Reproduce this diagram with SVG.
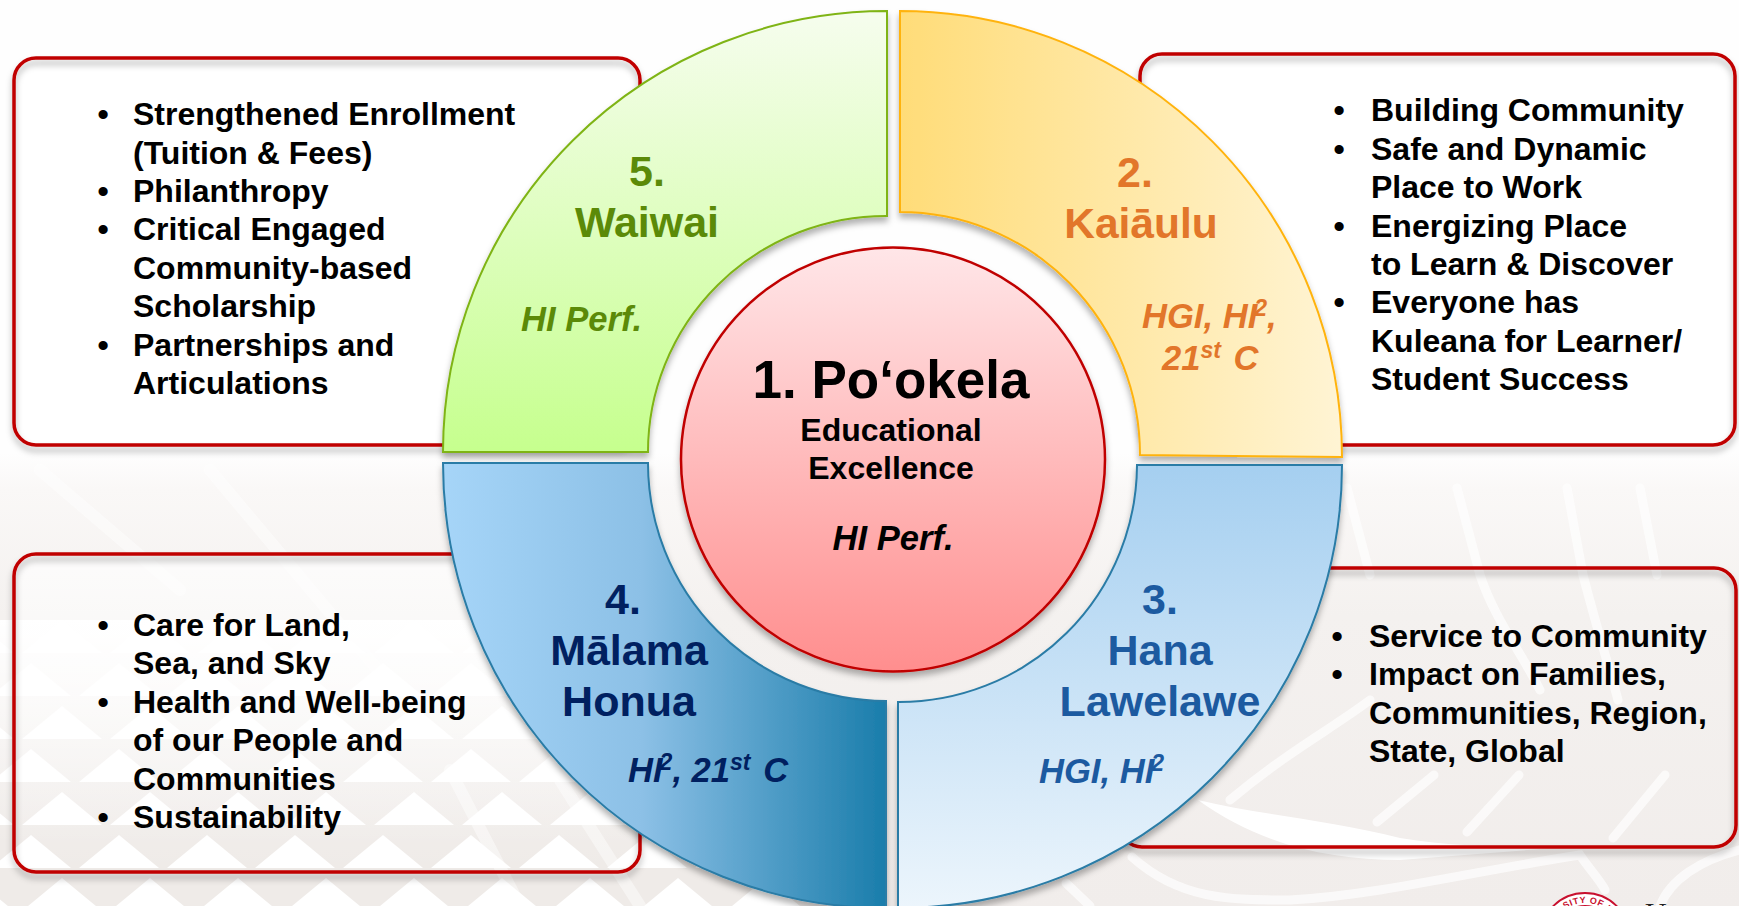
<svg xmlns="http://www.w3.org/2000/svg" width="1739" height="906" viewBox="0 0 1739 906">
<style>
text{font-family:"Liberation Sans",Arial,sans-serif;font-weight:bold}
.b{font-size:32px;fill:#000}
.d{font-size:32px;fill:#000;text-anchor:middle}
.t{font-size:43px;text-anchor:middle}
.i{font-size:34.6px;font-style:italic}
.box{fill:none;stroke:#c00000;stroke-width:3.5;filter:url(#sh)}
.q{stroke-width:2;filter:url(#sh)}
.ln{fill:none;stroke:#fff;stroke-linecap:round}
.u{font-size:23px}
</style>
<defs>
<filter id="sh" x="-5%" y="-5%" width="110%" height="112%"><feDropShadow dx="0" dy="5" stdDeviation="3" flood-color="#000" flood-opacity=".3"/></filter>
<clipPath id="leftBg"><path d="M0 620H660V800H800V906H0Z"/></clipPath>
<linearGradient id="bgG" x1="0" y1="0" x2="0" y2="1"><stop offset=".5" stop-color="#fefefe"/><stop offset=".54" stop-color="#faf8f7"/><stop offset=".68" stop-color="#f4f1ef"/><stop offset="1" stop-color="#f1edeb"/></linearGradient>
<linearGradient id="fade" x1="0" y1="0" x2="0" y2="1"><stop offset="0" stop-color="#fff" stop-opacity="1"/><stop offset="1" stop-color="#fff" stop-opacity="0"/></linearGradient>
<pattern id="tri" x="0" y="792" width="88" height="86" patternUnits="userSpaceOnUse">
<path d="M-9 76L31 43L71 76ZM79 76L119 43L159 76Z" fill="#fff"/>
<path d="M22 33L62 0L102 33ZM-66 33L-26 0L14 33Z" fill="#fff"/>
</pattern>
<linearGradient id="g5" x1="0" y1="0" x2="0" y2="1"><stop offset="0" stop-color="#f6fdee"/><stop offset="1" stop-color="#c6ff8e"/></linearGradient>
<linearGradient id="g2" x1="0" y1="0" x2="1" y2="0"><stop offset="0" stop-color="#ffdc78"/><stop offset="1" stop-color="#fff4d4"/></linearGradient>
<linearGradient id="g4" x1="0" y1="0" x2="1" y2="0"><stop offset="0" stop-color="#a6d5f8"/><stop offset=".45" stop-color="#8cc0e6"/><stop offset="1" stop-color="#1a7dab"/></linearGradient>
<linearGradient id="g3" x1="0" y1="0" x2="0" y2="1"><stop offset="0" stop-color="#a5cff0"/><stop offset="1" stop-color="#ecf5fc"/></linearGradient>
<linearGradient id="g1" x1="0" y1="0" x2="0" y2="1"><stop offset="0" stop-color="#ffe6e8"/><stop offset="1" stop-color="#ff8e8e"/></linearGradient>
<path id="seal" d="M1550 938A35 35 0 0 1 1620 938"/>
</defs>
<g id="background">
<rect width="1739" height="906" fill="url(#bgG)"/>
<g clip-path="url(#leftBg)">
<rect x="0" y="620" width="800" height="286" fill="#eee9e7" opacity=".7"/>
<rect x="0" y="620" width="800" height="286" fill="url(#tri)"/>
<rect x="0" y="620" width="800" height="225" fill="url(#fade)"/>
</g>
<g class="ln" stroke-width="9" opacity=".7">
<path d="M1347 488L1370 575"/><path d="M1457 488L1480 575C1495 620 1520 650 1540 690"/><path d="M1567 488L1583 575C1600 640 1610 670 1618 700"/><path d="M1640 488L1657 575"/>
<path d="M1377 822L1434 775"/><path d="M1467 832L1519 775"/><path d="M1613 838L1665 775"/>
<path d="M1230 800C1290 750 1330 730 1370 700"/>
<path d="M1132 857C1180 900 1230 900 1290 900C1380 895 1480 870 1580 855C1590 870 1600 880 1605 890"/>
<path d="M1066 883L1090 906"/>
<path d="M1660 906C1670 880 1700 860 1739 850"/>
</g>
<path d="M1198 800C1260 815 1330 820 1400 838C1460 848 1510 846 1566 847L1400 860C1330 860 1260 845 1198 800Z" fill="#fff"/>
<g class="ln" stroke-width="12" opacity=".45">
<path d="M40 470L180 590"/><path d="M210 470L420 720"/><path d="M450 770L520 906"/><path d="M560 780L640 906"/>
</g>
</g>
<g id="box-5"><rect x="14" y="58" width="626" height="387" rx="22" fill="#fff" fill-opacity=".9"/><rect class="box" x="14" y="58" width="626" height="387" rx="22"/></g>
<g id="box-2"><rect x="1140" y="54" width="595" height="391" rx="22" fill="#fff" fill-opacity=".9"/><rect class="box" x="1140" y="54" width="595" height="391" rx="22"/></g>
<g id="box-4"><rect x="14" y="554" width="626" height="318" rx="22" fill="url(#fade)" fill-opacity=".7"/><rect class="box" x="14" y="554" width="626" height="318" rx="22"/></g>
<g id="box-3"><rect class="box" x="1120" y="568" width="616" height="279" rx="22"/></g>

<g id="node-5">
<path class="q" d="M887 11V216A238 236 0 0 0 648 452H443A444 441 0 0 1 887 11Z" fill="url(#g5)" stroke="#7fb414"/>
<text class="t" x="647" y="186" fill="#5b8a08">5.</text>
<text class="t" x="647" y="237" fill="#5b8a08">Waiwai</text>
<text class="i" x="521" y="331" fill="#5b8a08">HI Perf.</text>
</g>
<g id="node-2">
<path class="q" d="M900 11V212A240 243 0 0 1 1140 455L1342 457A442 446 0 0 0 900 11Z" fill="url(#g2)" stroke="#ffb30f"/>
<text class="t" x="1135" y="187" fill="#e2762a">2.</text>
<text class="t" x="1141" y="238" fill="#e2762a" style="font-size:42.5px">Kaiāulu</text>
<text class="i" x="1142" y="328" fill="#e2762a">HGI, HI<tspan class="u" dx="-3" dy="-12">2</tspan><tspan dy="12">,</tspan></text>
<text class="i" x="1162" y="370" fill="#e2762a">21<tspan class="u" dy="-12">st</tspan><tspan dy="12" dx="3"> C</tspan></text>
</g>
<g id="node-3">
<path class="q" d="M898 702A238 238 0 0 0 1137 465H1342A444 443 0 0 1 898 908Z" fill="url(#g3)" stroke="#2a7ca6"/>
<text class="t" x="1160" y="614" fill="#1c5aa0">3.</text>
<text class="t" x="1160" y="665" fill="#1c5aa0">Hana</text>
<text class="t" x="1160" y="716" fill="#1c5aa0">Lawelawe</text>
<text class="i" x="1039" y="783" fill="#1c5aa0">HGI, HI<tspan class="u" dx="-3" dy="-12">2</tspan></text>
</g>
<g id="node-4">
<path class="q" d="M443 463H648A238 238 0 0 0 886 701V908A443 445 0 0 1 443 463Z" fill="url(#g4)" stroke="#2a7ca6"/>
<text class="t" x="623" y="614" fill="#002060">4.</text>
<text class="t" x="629" y="665" fill="#002060">Mālama</text>
<text class="t" x="629" y="716" fill="#002060">Honua</text>
<text class="i" x="628" y="782" fill="#002060">HI<tspan class="u" dx="-3" dy="-12">2</tspan><tspan dy="12">, 21</tspan><tspan class="u" dy="-12">st</tspan><tspan dy="12" dx="3"> C</tspan></text>
</g>
<g id="node-1">
<circle cx="893" cy="459.5" r="212" fill="url(#g1)" stroke="#c00000" stroke-width="2.5" filter="url(#sh)"/>
<text x="891" y="398" font-size="53" text-anchor="middle" fill="#000">1. Po‘okela</text>
<text class="d" x="891" y="441">Educational</text>
<text class="d" x="891" y="479">Excellence</text>
<text class="i" x="893" y="550" text-anchor="middle" fill="#000">HI Perf.</text>
</g>

<g id="list-5">
<text class="d" x="103" y="125">•</text><text class="b" x="133" y="125">Strengthened Enrollment</text>
<text class="b" x="133" y="164">(Tuition &amp; Fees)</text>
<text class="d" x="103" y="202">•</text><text class="b" x="133" y="202">Philanthropy</text>
<text class="d" x="103" y="240">•</text><text class="b" x="133" y="240">Critical Engaged</text>
<text class="b" x="133" y="279">Community-based</text>
<text class="b" x="133" y="317">Scholarship</text>
<text class="d" x="103" y="356">•</text><text class="b" x="133" y="356">Partnerships and</text>
<text class="b" x="133" y="394">Articulations</text>
</g>
<g id="list-2">
<text class="d" x="1339" y="121">•</text><text class="b" x="1371" y="121">Building Community</text>
<text class="d" x="1339" y="160">•</text><text class="b" x="1371" y="160">Safe and Dynamic</text>
<text class="b" x="1371" y="198">Place to Work</text>
<text class="d" x="1339" y="237">•</text><text class="b" x="1371" y="237">Energizing Place</text>
<text class="b" x="1371" y="275">to Learn &amp; Discover</text>
<text class="d" x="1339" y="313">•</text><text class="b" x="1371" y="313">Everyone has</text>
<text class="b" x="1371" y="352">Kuleana for Learner/</text>
<text class="b" x="1371" y="390">Student Success</text>
</g>
<g id="list-4">
<text class="d" x="103" y="636">•</text><text class="b" x="133" y="636">Care for Land,</text>
<text class="b" x="133" y="674">Sea, and Sky</text>
<text class="d" x="103" y="713">•</text><text class="b" x="133" y="713">Health and Well-being</text>
<text class="b" x="133" y="751">of our People and</text>
<text class="b" x="133" y="790">Communities</text>
<text class="d" x="103" y="828">•</text><text class="b" x="133" y="828">Sustainability</text>
</g>
<g id="list-3">
<text class="d" x="1337" y="647">•</text><text class="b" x="1369" y="647">Service to Community</text>
<text class="d" x="1337" y="685">•</text><text class="b" x="1369" y="685">Impact on Families,</text>
<text class="b" x="1369" y="724">Communities, Region,</text>
<text class="b" x="1369" y="762">State, Global</text>
</g>
<g id="seal-logo">
<circle cx="1585" cy="938" r="45" fill="#fff" stroke="#c8102e" stroke-width="1.8"/>
<circle cx="1585" cy="938" r="33" fill="#c8102e"/>
<text font-size="9" letter-spacing=".6" fill="#c8102e" text-anchor="middle"><textPath href="#seal" startOffset="50%">RSITY OF H</textPath></text>
<text x="1645" y="923" font-size="30" fill="#222" style="font-family:'Liberation Serif',serif;font-weight:normal">U</text>
</g>
</svg>
